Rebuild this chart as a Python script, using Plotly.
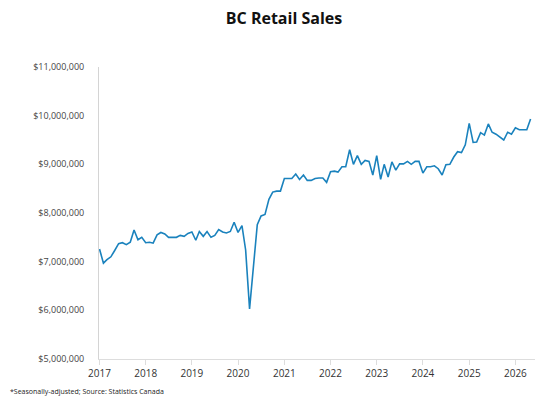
import pandas as pd
import plotly.graph_objects as go

# monthly BC retail sales, seasonally adjusted, in millions of dollars
sales_2017 = [7.26, 6.97, 7.04, 7.10, 7.23, 7.37, 7.39, 7.35, 7.40, 7.65, 7.45, 7.50]
sales_2018 = [7.39, 7.40, 7.38, 7.55, 7.60, 7.57, 7.50, 7.50, 7.50, 7.54, 7.52, 7.58]
sales_2019 = [7.61, 7.44, 7.62, 7.52, 7.62, 7.50, 7.54, 7.66, 7.61, 7.59, 7.62, 7.81]
sales_2020 = [7.60, 7.74, 7.24, 6.03, 6.83, 7.76, 7.94, 7.97, 8.28, 8.43, 8.45, 8.45]
sales_2021 = [8.71, 8.71, 8.71, 8.80, 8.69, 8.78, 8.67, 8.67, 8.71, 8.72, 8.72, 8.63]
sales_2022 = [8.85, 8.86, 8.84, 8.95, 8.95, 9.30, 9.00, 9.18, 9.00, 9.08, 9.06, 8.78]
sales_2023 = [9.18, 8.69, 9.00, 8.74, 9.05, 8.88, 9.01, 9.01, 9.06, 9.00, 9.06, 9.06]
sales_2024 = [8.82, 8.95, 8.95, 8.97, 8.91, 8.78, 8.99, 9.00, 9.15, 9.26, 9.24, 9.40]
sales_2025 = [9.84, 9.45, 9.46, 9.65, 9.60, 9.83, 9.66, 9.62, 9.56, 9.50, 9.66, 9.62]
sales_2026 = [9.75, 9.71, 9.71, 9.71, 9.93]

sales_m = (sales_2017 + sales_2018 + sales_2019 + sales_2020 + sales_2021
           + sales_2022 + sales_2023 + sales_2024 + sales_2025 + sales_2026)
sales = [v * 1_000_000 for v in sales_m]
months = pd.date_range("2017-01-01", periods=len(sales), freq="MS")

title = "BC Retail Sales"
footnote = "*Seasonally-adjusted; Source: Statistics Canada"

# page body adds an 8px margin, so the figure is 8px smaller each way
fig = go.Figure()
fig.add_trace(go.Scatter(x=months, y=sales, mode="lines",
                         line=dict(color="#1a82bd", width=1.6),
                         hoverinfo="x+y"))

fig.update_layout(
    width=552, height=398,
    margin=dict(l=91, r=25, t=59, b=47),
    paper_bgcolor="white", plot_bgcolor="white",
    showlegend=False,
    font=dict(family="Open Sans, Roboto, sans-serif", color="#333333"),
    title=dict(text="<b>" + title + "</b>", x=0.5, xanchor="center",
               y=1 - 10 / 398, yanchor="middle",
               font=dict(size=16, color="#111111", family="Open Sans, sans-serif")),
)
fig.update_xaxes(
    range=["2016-12-28", "2026-06-05"],
    tickformat="%Y", dtick="M12", tick0="2017-01-01",
    showgrid=False, zeroline=False,
    showline=True, linecolor="#dddddd", linewidth=1,
    ticks="outside", ticklen=5, tickcolor="#dddddd",
    tickfont=dict(size=10, color="#333333"),
)
fig.update_yaxes(
    range=[5_000_000, 11_000_000], dtick=1_000_000,
    tickprefix="$", tickformat=",.0f",
    showgrid=False, zeroline=False,
    showline=True, linecolor="#d4d4d4", linewidth=1,
    ticks="", ticklabelstandoff=12,
    tickfont=dict(size=9, color="#444444"),
)
fig.add_annotation(text=footnote, xref="paper", yref="paper",
                   x=-91 / 436, y=-33 / 292, xanchor="left", yanchor="middle",
                   showarrow=False, font=dict(size=7, color="#222222"))

fig.write_html("out.html")
